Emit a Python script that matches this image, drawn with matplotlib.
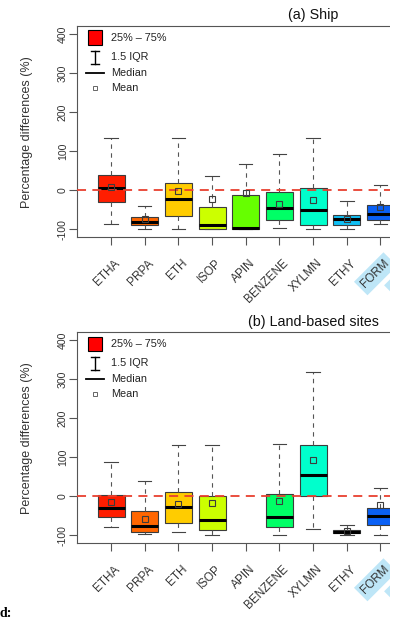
import matplotlib
matplotlib.use('Agg')
import matplotlib.pyplot as plt
import numpy as np
from matplotlib.transforms import ScaledTranslation
from matplotlib.patches import Rectangle
from matplotlib.lines import Line2D

plt.rcParams['font.family'] = ['Liberation Sans', 'DejaVu Sans']

# ---------------- data ----------------
categories = ["ETHA", "PRPA", "ETH", "ISOP", "APIN", "BENZENE", "XYLMN", "ETHY", "FORM", "GLYOX"]
highlighted = ["FORM", "GLYOX"]
box_colors = ["#FF1E00", "#FF6600", "#FFCC00", "#CCFF00", "#66FF00",
              "#00FF66", "#00FFCC", "#10C0F5", "#0A60F5"]

ship_whislo = [-85, -100, -100, -100, -100, -97, -100, -100, -87]
ship_q1     = [-31, -89, -65, -100, -100, -75, -88, -88, -75]
ship_med    = [5, -80, -22, -88, -97, -45, -49, -74, -60]
ship_q3     = [39, -67, 19.5, -43, -11, -3, 6, -63, -37]
ship_whishi = [135, -39, 135, 36, 68, 92, 133, -27, 14]
ship_mean   = [9, -74, -2, -21.5, -8, -34, -24, -73, -43]

nan = np.nan
land_whislo = [-79, -97, -92, -99, nan, -99, -84, -98, -98]
land_q1     = [-53, -90, -67, -85, nan, -78, 1, -94, -72]
land_med    = [-31, -77, -28, -60, nan, -53, 55, -90, -51]
land_q3     = [3, -37, 12, 0, nan, 7, 130, -86, -31]
land_whishi = [87, 40, 130, 130, nan, 135, 319, -74, 21]
land_mean   = [-15.5, -57, -19, -18, nan, -13, 94, -89, -23]

yticks = [-100, 0, 100, 200, 300, 400]
legend_labels = ["25% \u2013 75%", "1.5 IQR", "Median", "Mean"]

# ---------------- figure ----------------
W, H = 396, 618
fig = plt.figure(figsize=(W / 100, H / 100), dpi=100)


def fx(px):
    return px / W


def fy(py):
    return 1 - py / H


def panel(top_px, title, title_pad, whislo, q1, med, q3, whishi, mean):
    ax = fig.add_axes([fx(76.7), fy(top_px + 211.3), fx(549.5) - fx(76.7), 211.3 / H])
    stats, pos, cols = [], [], []
    for i in range(len(med)):
        if np.isnan(med[i]):
            continue
        stats.append(dict(med=med[i], q1=q1[i], q3=q3[i], whislo=whislo[i],
                          whishi=whishi[i], mean=mean[i], fliers=[]))
        pos.append(i + 1)
        cols.append(box_colors[i])
    bp = ax.bxp(stats, positions=pos, widths=0.8, patch_artist=True,
                showmeans=True, showfliers=False, capwidths=0.4,
                boxprops=dict(edgecolor='#3c3c3c', linewidth=0.8),
                whiskerprops=dict(color='#555555', linewidth=0.8, linestyle=(0, (4, 4))),
                capprops=dict(color='#444444', linewidth=0.8),
                medianprops=dict(color='black', linewidth=2.2),
                meanprops=dict(marker='s', markerfacecolor='none', markeredgecolor='#3c3c3c',
                               markersize=4.8, markeredgewidth=0.8, zorder=6))
    for patch, c in zip(bp['boxes'], cols):
        patch.set_facecolor(c)

    ax.axhline(0, color='#E8402F', lw=1.3, linestyle=(0, (5, 3.5)), zorder=5)

    ax.set_xlim(-0.02, 14.02)
    ax.set_ylim(-120, 420)
    ax.set_yticks(yticks)
    ax.set_yticklabels([str(v) for v in yticks])
    ax.set_xticks(np.arange(1, len(categories) + 1))
    ax.set_xticklabels(categories)

    for sp in ax.spines.values():
        sp.set_color('#555555')
        sp.set_linewidth(0.8)

    ax.tick_params(axis='y', direction='out', length=5.5, width=0.8, color='#555555',
                   labelsize=7.6, labelcolor='#333333', labelrotation=90, pad=0.8)
    for lbl in ax.get_yticklabels():
        lbl.set_va('center')
    ax.tick_params(axis='x', direction='out', length=5.8, width=0.8, color='#555555',
                   labelsize=8.5, labelcolor='#333333', pad=8.6)
    off = ScaledTranslation(3 / 100, 0, fig.dpi_scale_trans)
    for lbl in ax.get_xticklabels():
        lbl.set_rotation(45)
        lbl.set_ha('right')
        lbl.set_va('top')
        lbl.set_rotation_mode('anchor')
        lbl.set_transform(lbl.get_transform() + off)
        if lbl.get_text() in highlighted:
            lbl.set_bbox(dict(boxstyle='square,pad=0.3', fc='#BEE6F7', ec='none'))

    ax.set_ylabel('Percentage differences (%)', fontsize=9, color='#333333')
    ax.yaxis.set_label_coords(-0.093, 0.5)
    ax.set_title(title, fontsize=10.3, pad=title_pad, color='#111111')

    # legend (manual, R style)
    fig.patches.append(Rectangle((fx(88), fy(top_px + 19)), 14 / W, 14.5 / H,
                                 transform=fig.transFigure, fc='#FF0000', ec='black', lw=0.8))
    ys = [11.7, 31.5, 46.7, 61.8]
    for lab, yy in zip(legend_labels, ys):
        fig.text(fx(110.7), fy(top_px + yy), lab, fontsize=7.8, va='center', ha='left',
                 color='#222222')
    # I symbol
    y1, y2 = top_px + 25, top_px + 38
    fig.lines.append(Line2D([fx(95), fx(95)], [fy(y1), fy(y2)], transform=fig.transFigure,
                            color='black', lw=1))
    for yy in (y1, y2):
        fig.lines.append(Line2D([fx(91), fx(99)], [fy(yy), fy(yy)], transform=fig.transFigure,
                                color='black', lw=1))
    fig.lines.append(Line2D([fx(86), fx(104)], [fy(top_px + 46.7)] * 2,
                            transform=fig.transFigure, color='black', lw=1.3))
    fig.lines.append(Line2D([fx(95)], [fy(top_px + 61.8)], transform=fig.transFigure,
                            marker='s', ms=3, mfc='white', mec='#666666', mew=0.7, ls='none'))
    return ax


panel(26, '(a) Ship', 5.3, ship_whislo, ship_q1, ship_med, ship_q3, ship_whishi, ship_mean)
panel(332, '(b) Land-based sites', 4.0, land_whislo, land_q1, land_med, land_q3, land_whishi, land_mean)

# right-edge crop of the original picture
fig.patches.append(Rectangle((fx(390), 0), 6 / W, 1, transform=fig.transFigure,
                             fc='white', ec='none', zorder=1000))

fig.text(fx(-1), fy(617), 'd:', fontfamily=['Liberation Serif', 'DejaVu Serif'],
         fontweight='bold', fontsize=10, va='baseline', ha='left')

fig.savefig('out.png', dpi=100)
